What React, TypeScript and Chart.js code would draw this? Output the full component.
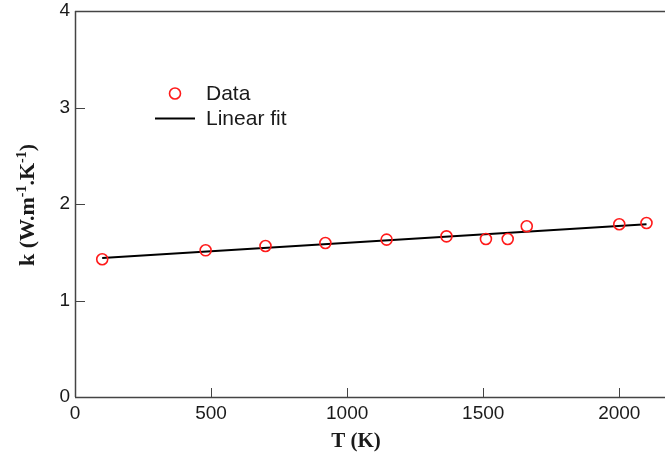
import { useEffect, useRef } from 'react';
import { Chart, registerables } from 'chart.js';

Chart.register(...registerables);

// Data
const temperatures = [100, 480, 700, 920, 1145, 1365, 1510, 1590, 1660, 2000, 2100];
const conductivity = [1.427, 1.52, 1.565, 1.596, 1.631, 1.665, 1.637, 1.637, 1.769, 1.79, 1.803];
const fitTemperatures = [100, 2100];
const fitConductivity = [1.441, 1.79];
const xTickValues = [0, 500, 1000, 1500, 2000];
const yTickValues = [0, 1, 2, 3, 4];
const legendLabels = ['Data', 'Linear fit'];
const xTitle = 'T (K)';
const yTitleParts = [
  { text: 'k (W.m', sup: false },
  { text: '-1', sup: true },
  { text: '.K', sup: false },
  { text: '-1', sup: true },
  { text: ')', sup: false },
];

const AXIS_COLOR = '#444444';
const TEXT_COLOR = '#1a1a1a';

const framePlugin = {
  id: 'frameAndTicks',
  afterDraw(chart: any) {
    const { ctx, chartArea } = chart;
    const xs = chart.scales.x;
    const ys = chart.scales.y;
    ctx.save();
    ctx.strokeStyle = AXIS_COLOR;
    ctx.lineWidth = 1.5;
    ctx.beginPath();
    // left axis
    ctx.moveTo(chartArea.left + 0.5, chartArea.top);
    ctx.lineTo(chartArea.left + 0.5, chartArea.bottom);
    // bottom axis
    ctx.moveTo(chartArea.left, chartArea.bottom + 0.5);
    ctx.lineTo(chartArea.right, chartArea.bottom + 0.5);
    // top frame
    ctx.moveTo(chartArea.left, chartArea.top + 0.5);
    ctx.lineTo(chartArea.right, chartArea.top + 0.5);
    ctx.stroke();

    ctx.lineWidth = 1;
    ctx.beginPath();
    xTickValues.forEach((v) => {
      if (v === xs.min) return;
      const px = Math.round(xs.getPixelForValue(v)) + 0.5;
      ctx.moveTo(px, chartArea.bottom);
      ctx.lineTo(px, chartArea.bottom - 9);
    });
    yTickValues.forEach((v) => {
      if (v === ys.min || v === ys.max) return;
      const py = Math.round(ys.getPixelForValue(v)) + 0.5;
      ctx.moveTo(chartArea.left, py);
      ctx.lineTo(chartArea.left + 10, py);
    });
    ctx.stroke();

    // legend
    ctx.font = '21px "Liberation Sans", Arial, sans-serif';
    ctx.fillStyle = TEXT_COLOR;
    ctx.textBaseline = 'middle';
    ctx.textAlign = 'left';
    ctx.strokeStyle = '#ff1a1a';
    ctx.lineWidth = 1.6;
    ctx.beginPath();
    ctx.arc(175, 93.5, 5.5, 0, Math.PI * 2);
    ctx.stroke();
    ctx.fillText(legendLabels[0], 206, 94);
    ctx.strokeStyle = '#000000';
    ctx.lineWidth = 2;
    ctx.beginPath();
    ctx.moveTo(155, 118.5);
    ctx.lineTo(195, 118.5);
    ctx.stroke();
    ctx.fillText(legendLabels[1], 206, 119);

    // x title
    ctx.font = 'bold 21px "Liberation Serif", "Times New Roman", serif';
    ctx.textAlign = 'center';
    ctx.textBaseline = 'middle';
    ctx.fillText(xTitle, 356, 442);

    // y title with superscripts
    const mainFont = 'bold 22px "Liberation Serif", "Times New Roman", serif';
    const supFont = 'bold 14px "Liberation Serif", "Times New Roman", serif';
    let total = 0;
    yTitleParts.forEach((p) => {
      ctx.font = p.sup ? supFont : mainFont;
      total += ctx.measureText(p.text).width;
    });
    ctx.translate(27, 205);
    ctx.rotate(-Math.PI / 2);
    ctx.textAlign = 'left';
    ctx.textBaseline = 'alphabetic';
    let cx = -total / 2;
    yTitleParts.forEach((p) => {
      ctx.font = p.sup ? supFont : mainFont;
      ctx.fillText(p.text, cx, p.sup ? -1 : 7);
      cx += ctx.measureText(p.text).width;
    });
    ctx.restore();
  },
};

export default function App() {
  const canvasRef = useRef<HTMLCanvasElement | null>(null);

  useEffect(() => {
    const canvas = canvasRef.current;
    if (!canvas) return;
    const zeroPadding = (scale: any) => {
      scale.paddingTop = 0;
      scale.paddingBottom = 0;
      scale.paddingLeft = 0;
      scale.paddingRight = 0;
    };
    const chart = new Chart(canvas, {
      type: 'scatter',
      data: {
        datasets: [
          {
            type: 'line',
            label: legendLabels[1],
            data: fitTemperatures.map((t, i) => ({ x: t, y: fitConductivity[i] })),
            borderColor: '#000000',
            borderWidth: 2,
            pointRadius: 0,
            fill: false,
            order: 2,
          },
          {
            type: 'scatter',
            label: legendLabels[0],
            data: temperatures.map((t, i) => ({ x: t, y: conductivity[i] })),
            borderColor: '#ff1a1a',
            backgroundColor: 'rgba(0,0,0,0)',
            borderWidth: 1.6,
            pointRadius: 5.5,
            pointStyle: 'circle',
            order: 1,
          },
        ],
      },
      options: {
        animation: false,
        responsive: false,
        maintainAspectRatio: false,
        layout: { autoPadding: false, padding: { top: 11, left: 0, right: 0, bottom: 0 } },
        plugins: {
          legend: { display: false },
          tooltip: { enabled: false },
        },
        scales: {
          x: {
            type: 'linear',
            min: 0,
            max: 2168,
            afterBuildTicks: (scale: any) => {
              scale.ticks = xTickValues.map((v) => ({ value: v }));
            },
            afterFit: (scale: any) => {
              scale.height = 61;
              zeroPadding(scale);
            },
            grid: { display: false, drawTicks: false },
            border: { display: false },
            ticks: {
              padding: 5,
              color: TEXT_COLOR,
              font: { family: '"Liberation Sans", Arial, sans-serif', size: 19 },
              callback: (v: any) => String(v),
              maxRotation: 0,
            },
          },
          y: {
            type: 'linear',
            min: 0,
            max: 4,
            afterBuildTicks: (scale: any) => {
              scale.ticks = yTickValues.map((v) => ({ value: v }));
            },
            afterFit: (scale: any) => {
              scale.width = 75;
              zeroPadding(scale);
            },
            grid: { display: false, drawTicks: false },
            border: { display: false },
            ticks: {
              padding: 5,
              color: TEXT_COLOR,
              font: { family: '"Liberation Sans", Arial, sans-serif', size: 19 },
              callback: (v: any) => String(v),
            },
          },
        },
      },
      plugins: [framePlugin],
    });
    return () => chart.destroy();
  }, []);

  return (
    <div style={{ position: 'fixed', left: 0, top: 0, width: 665, height: 458, background: '#ffffff' }}>
      <canvas ref={canvasRef} width={665} height={458} style={{ width: 665, height: 458, display: 'block' }} />
    </div>
  );
}
